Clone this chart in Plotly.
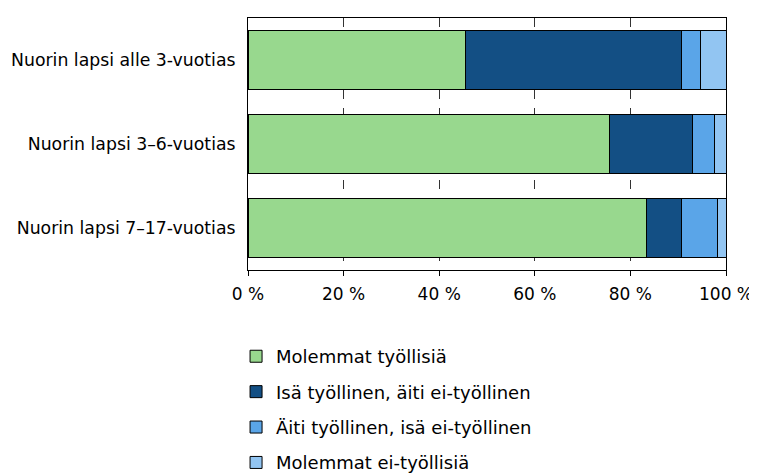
import plotly.graph_objects as go

categories = ["Nuorin lapsi alle 3-vuotias", "Nuorin lapsi 3–6-vuotias", "Nuorin lapsi 7–17-vuotias"]
series_names = [
    "Molemmat työllisiä",
    "Isä työllinen, äiti ei-työllinen",
    "Äiti työllinen, isä ei-työllinen",
    "Molemmat ei-työllisiä",
]
molemmat_tyollisia = [45.6, 75.7, 83.3]
isa_tyollinen = [45.0, 17.2, 7.3]
aiti_tyollinen = [4.0, 4.6, 7.7]
molemmat_ei = [5.4, 2.5, 1.7]
tick_values = [0, 20, 40, 60, 80, 100]
tick_labels = ["0 %", "20 %", "40 %", "60 %", "80 %", "100 %"]

colors = ["#98d88e", "#134f84", "#5aa5e8", "#92c5f2"]
font = "DejaVu Sans, sans-serif"

fig = go.Figure()
for name, values, color in zip(series_names, [molemmat_tyollisia, isa_tyollinen, aiti_tyollinen, molemmat_ei], colors):
    fig.add_trace(
        go.Bar(
            y=categories,
            x=values,
            name=name,
            orientation="h",
            marker=dict(color=color, line=dict(color="black", width=1)),
            legendgroup=name,
            width=0.7,
        )
    )

# sivulla on 8 px body-marginaali; kuva on korkeampi kuin ikkuna, jotta selite mahtuu
fig.update_layout(
    barmode="stack",
    width=757,
    height=500,
    margin=dict(l=240, r=39, t=10, b=238),
    plot_bgcolor="white",
    paper_bgcolor="white",
    font=dict(family=font, size=17, color="black"),
    legend=dict(
        x=-0.025,
        y=-0.27,
        xanchor="left",
        yanchor="top",
        tracegroupgap=9,
        font=dict(size=18),
        itemwidth=30,
    ),
    xaxis=dict(
        range=[0, 100],
        tickmode="array",
        tickvals=tick_values,
        ticktext=tick_labels,
        showgrid=True,
        gridcolor="#333333",
        griddash="dash",
        gridwidth=1,
        showline=True,
        linecolor="black",
        linewidth=1,
        mirror=True,
        ticks="outside",
        ticklen=5,
        tickcolor="black",
        ticklabelstandoff=4,
        zeroline=False,
        automargin=False,
    ),
    yaxis=dict(
        autorange="reversed",
        showline=True,
        linecolor="black",
        linewidth=1,
        mirror=True,
        ticks="",
        ticklabelstandoff=8,
        automargin=False,
        tickfont=dict(size=17.3),
    ),
)

fig.write_html("out.html")
